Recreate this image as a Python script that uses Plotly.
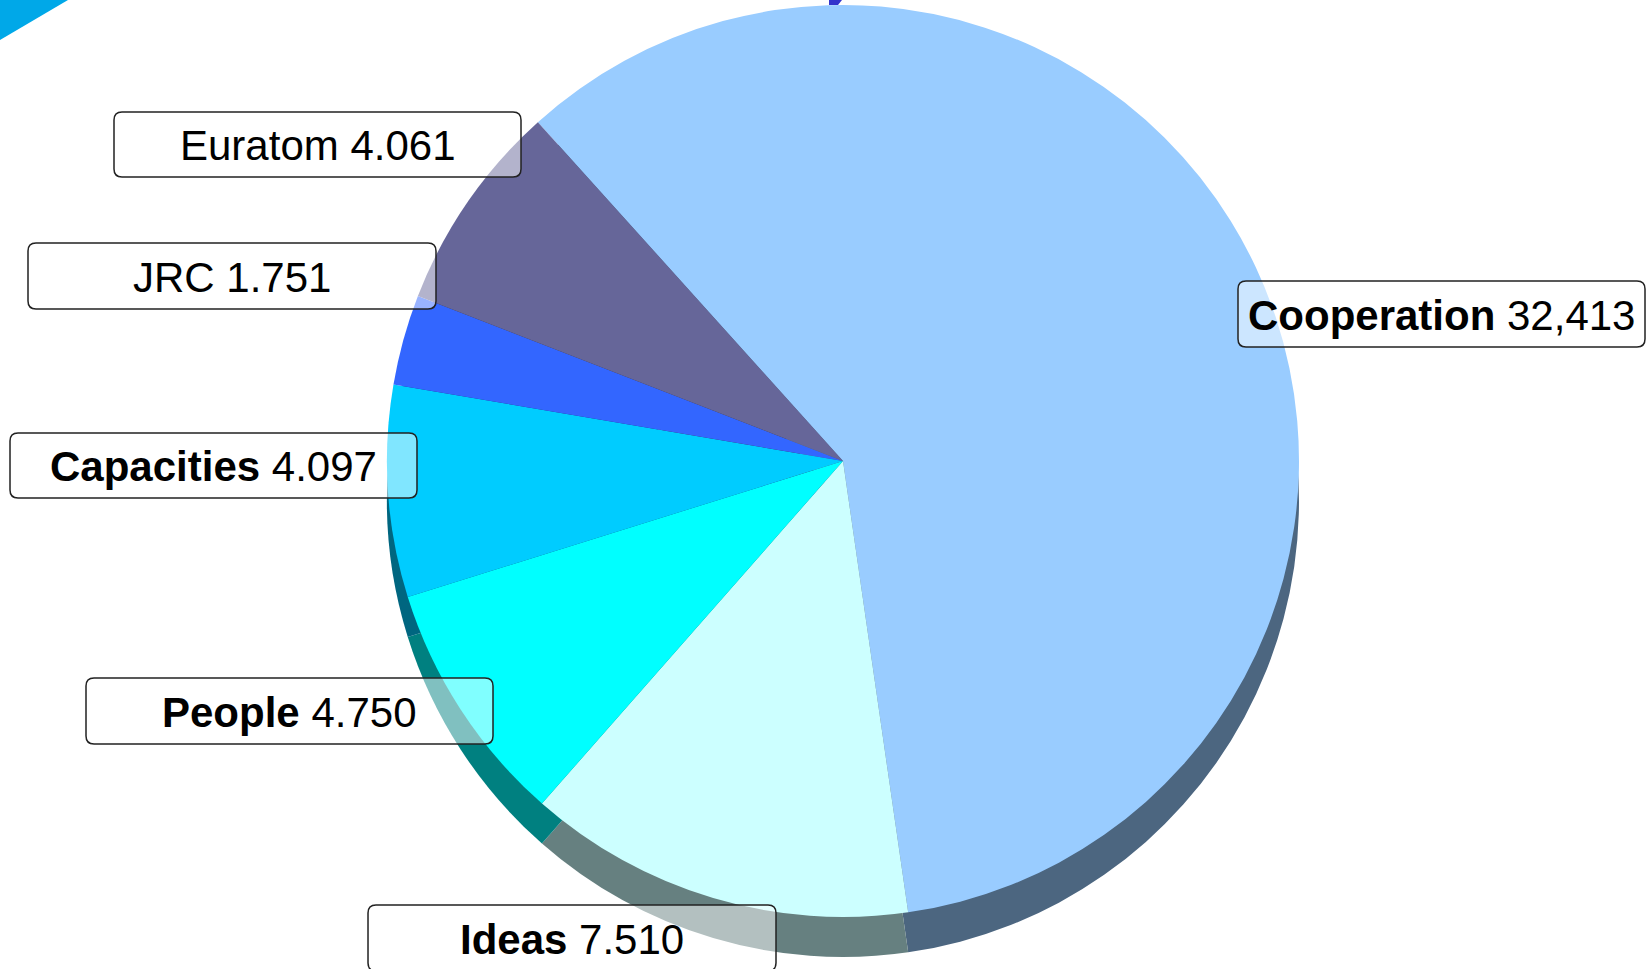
import plotly.graph_objects as go

# ---- data ----
categories = ["Cooperation", "Ideas", "People", "Capacities", "JRC", "Euratom"]
values = [32413, 7510, 4750, 4097, 1751, 4061]
value_labels = ["32,413", "7.510", "4.750", "4.097", "1.751", "4.061"]
bold_names = [True, True, True, True, False, False]
colors = ["#99CCFF", "#CCFFFF", "#00FFFF", "#00CCFF", "#3366FF", "#666699"]
shadow_colors = ["#4C6680", "#668080", "#008080", "#006680", "#1A3380", "#33334D"]

W, H = 1651, 969
CX, CY, R = 843, 461, 456
DEPTH = 40
ROT = -42

def px(x):
    return x / W

def py(y):
    return (H - y) / H

fig = go.Figure()

# extrusion (side) of the pie
fig.add_trace(go.Pie(
    labels=categories, values=values, sort=False, direction="clockwise",
    rotation=ROT, textinfo="none", hoverinfo="skip",
    marker=dict(colors=shadow_colors, line=dict(width=0)),
    domain=dict(x=[px(CX - R), px(CX + R)], y=[py(CY + DEPTH + R), py(CY + DEPTH - R)]),
    showlegend=False,
))
# top face
fig.add_trace(go.Pie(
    labels=categories, values=values, sort=False, direction="clockwise",
    rotation=ROT, textinfo="none", hoverinfo="label+value",
    marker=dict(colors=colors, line=dict(width=0)),
    domain=dict(x=[px(CX - R), px(CX + R)], y=[py(CY + R), py(CY - R)]),
    showlegend=False,
))

# label boxes (left, top, right, bottom in pixels)
boxes = {
    "Cooperation": (1238, 281, 1645, 347),
    "Ideas": (368, 905, 776, 971),
    "People": (86, 678, 493, 744),
    "Capacities": (10, 433, 417, 498),
    "JRC": (28, 243, 436, 309),
    "Euratom": (114, 112, 521, 177),
}

def rounded_path(l, t, r, b, rad=8):
    def P(x, y):
        return f"{px(x):.5f},{py(y):.5f}"
    return (f"M {P(l + rad, t)} L {P(r - rad, t)} Q {P(r, t)} {P(r, t + rad)} "
            f"L {P(r, b - rad)} Q {P(r, b)} {P(r - rad, b)} L {P(l + rad, b)} "
            f"Q {P(l, b)} {P(l, b - rad)} L {P(l, t + rad)} Q {P(l, t)} {P(l + rad, t)} Z")

shapes = []
annotations = []
for name, val, bold in zip(categories, value_labels, bold_names):
    l, t, r, b = boxes[name]
    shapes.append(dict(type="path", xref="paper", yref="paper", path=rounded_path(l, t, r, b),
                       fillcolor="rgba(255,255,255,0.5)", line=dict(color="#222222", width=1.5),
                       layer="above"))
    txt = (f"<b>{name}</b> {val}" if bold else f"{name} {val}")
    annotations.append(dict(x=px((l + r) / 2), y=py((t + b) / 2 + 1), xref="paper", yref="paper",
                            text=txt, showarrow=False, xanchor="center", yanchor="middle",
                            font=dict(family="Liberation Sans, Arial, sans-serif", size=42, color="black")))

# slide template decoration (top-left corner)
shapes.append(dict(type="path", xref="paper", yref="paper",
                   path=f"M {px(0)},{py(0)} L {px(68)},{py(0)} L {px(0)},{py(40)} Z",
                   fillcolor="#00A8E8", line=dict(width=0), layer="above"))

# fragment of the slide title cut off above the chart
shapes.append(dict(type="path", xref="paper", yref="paper",
                   path=f"M {px(829)},{py(0)} L {px(842)},{py(0)} L {px(838)},{py(5)} L {px(829)},{py(5)} Z",
                   fillcolor="#3333CC", line=dict(width=0), layer="above"))

fig.update_layout(
    width=W, height=H, margin=dict(l=0, r=0, t=0, b=0),
    paper_bgcolor="white", plot_bgcolor="white",
    shapes=shapes, annotations=annotations, showlegend=False,
)

fig.write_html("out.html")
